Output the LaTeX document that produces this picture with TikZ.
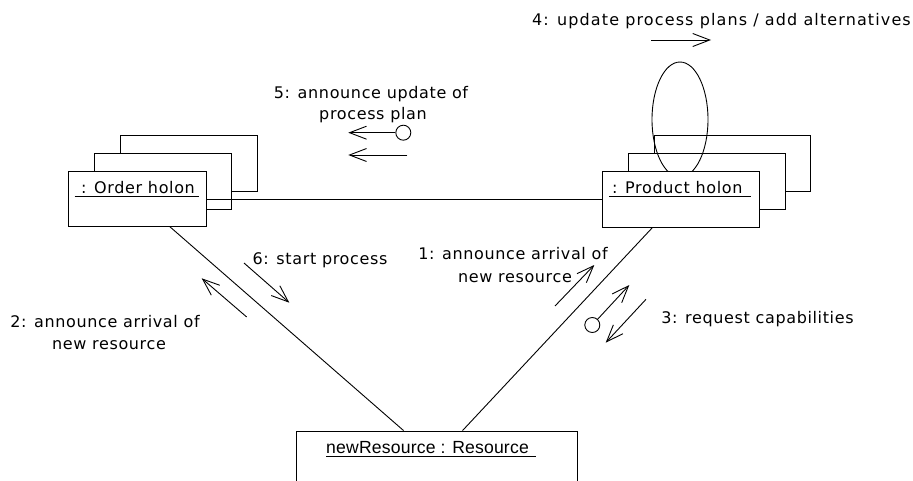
\documentclass[tikz,border=0pt]{standalone}
\usepackage{fontspec}
\usetikzlibrary{arrows.meta}
\newfontfamily\labfont[LetterSpace=4]{DejaVu Sans}
\newfontfamily\widelabfont[LetterSpace=7]{DejaVu Sans}
\newfontfamily\resfont[LetterSpace=1]{Liberation Sans}
\tikzset{
  wire/.style={line width=0.9pt, black},
  objbox/.style={draw, line width=0.9pt, rectangle, inner sep=0pt},
  msg/.style={line width=0.9pt, -{Straight Barb[length=17pt, width=13pt, line width=0.9pt]}},
  lab/.style={font=\labfont\fontsize{16}{19}\selectfont, inner sep=0pt, anchor=base},
  tail/.style={draw, circle, line width=0.9pt, minimum size=15pt, inner sep=0pt},
}
\begin{document}
\begin{tikzpicture}[x=1pt, y=-1pt]
\clip (0,0) rectangle (913,481);

% Order holon stack
\draw[wire] (120.7,153) -- (120.7,135) -- (257.3,135) -- (257.3,191) -- (231.7,191);
\draw[wire] (94.3,171) -- (94.3,153) -- (231.7,153) -- (231.7,209.3) -- (206,209.3);
\node[objbox, minimum width=138pt, minimum height=55pt] (ord) at (137,198.5) {};
\node[lab, anchor=base west] (ordtxt) at (81,194) {: Order holon};
\draw[wire] (74.5,196.8) -- (198.5,196.8);

% Product holon stack
\draw[wire] (654.3,153.3) -- (654.3,135) -- (810.7,135) -- (810.7,191) -- (785,191);
\draw[wire] (628.3,171) -- (628.3,153.3) -- (785,153.3) -- (785,209) -- (759,209);
\node[objbox, minimum width=157pt, minimum height=56pt] (prod) at (680.5,199) {};
\node[lab, anchor=base west] (prodtxt) at (612,194) {: Product holon};
\draw[wire] (609,196.8) -- (750.5,196.8);

% Resource object (runs past the lower edge)
\node[objbox, minimum width=281pt, minimum height=80pt] (res) at (436.5,471) {};
\node[font=\resfont\fontsize{17.6}{20}\selectfont, inner sep=0pt, anchor=base west] (restxt) at (326,453) {newResource : Resource};
\draw[wire] (326,456.3) -- (536,456.3);

% links
\draw[wire] (ord.east |- 0,199) -- (prod.west |- 0,199);
\draw[wire] ([xshift=102pt]ord.south west) -- ([xshift=108pt]res.north west);
\draw[wire] ([xshift=51pt]prod.south west) -- ([xshift=167pt]res.north west);

% self link on the product holon
\begin{scope}
  \clip (600,0) rectangle (760,171);
  \draw[wire] (680,119.5) ellipse [x radius=28, y radius=57.5];
\end{scope}

% message 4
\coordinate (a4s) at (651,40);
\coordinate (a4e) at (711,40);
\draw[msg] (a4s) -- (a4e);
\node[lab, font=\widelabfont\fontsize{16}{19}\selectfont] (m4) at (721.5,25.5) {4: update process plans / add alternatives};

% message 5
\node[tail] (c5) at (403.3,132.7) {};
\coordinate (a5e) at (348.3,132.7);
\draw[msg] (c5) -- (a5e);
\coordinate (b5s) at (407.3,155);
\coordinate (b5e) at (348.3,155);
\draw[msg] (b5s) -- (b5e);
\node[lab] (m5a) at (371,98.5) {5: announce update of};
\node[lab] (m5b) at (373,120) {process plan};

% message 6
\coordinate (a6s) at (244,263);
\coordinate (a6e) at (289.3,302.7);
\draw[msg] (a6s) -- (a6e);
\node[lab] (m6) at (320,264) {6: start process};

% message 2
\coordinate (a2s) at (246.7,317);
\coordinate (a2e) at (201.7,278.3);
\draw[msg] (a2s) -- (a2e);
\node[lab] (m2a) at (105,327.3) {2: announce arrival of};
\node[lab] (m2b) at (109,349.3) {new resource};

% message 1
\coordinate (a1s) at (555,306);
\coordinate (a1e) at (594.3,265);
\draw[msg] (a1s) -- (a1e);
\node[lab] (m1a) at (513,259.3) {1: announce arrival of};
\node[lab] (m1b) at (515,282.7) {new resource};

% message 3
\node[tail] (c3) at (592.3,325) {};
\coordinate (a3e) at (629.3,285);
\draw[msg] (c3) -- (a3e);
\coordinate (b3s) at (646,299.3);
\coordinate (b3e) at (605.7,342.7);
\draw[msg] (b3s) -- (b3e);
\node[lab] (m3) at (757.5,323.5) {3: request capabilities};
\end{tikzpicture}
\end{document}
